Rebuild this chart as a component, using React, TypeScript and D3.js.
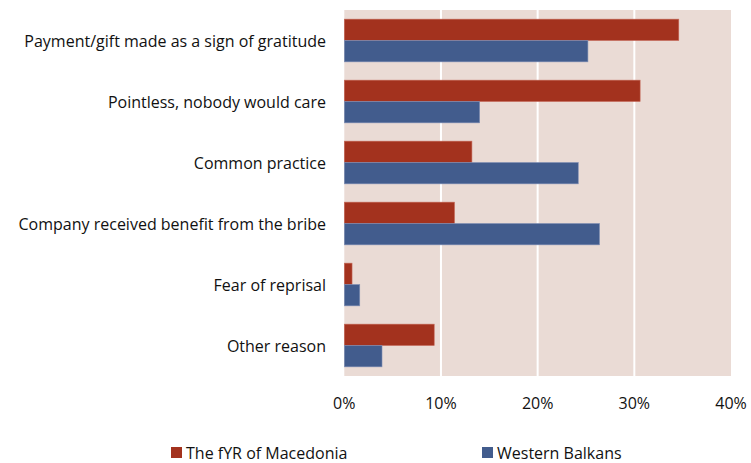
import React from "react";
import * as d3 from "d3";

const categories = [
  "Payment/gift made as a sign of gratitude",
  "Pointless, nobody would care",
  "Common practice",
  "Company received benefit from the bribe",
  "Fear of reprisal",
  "Other reason",
];
const seriesNames = ["The fYR of Macedonia", "Western Balkans"];
const macedonia = [34.6, 30.6, 13.2, 11.4, 0.8, 9.3];
const westernBalkans = [25.2, 14.0, 24.2, 26.4, 1.6, 3.9];
const xTicks = [0, 10, 20, 30, 40];

const colors = ["#A3321E", "#425C8D"];
const W = 751, H = 463;
const left = 344.3, right = 731, top = 10, bottom = 376;
const font = "'Open Sans', 'Noto Sans', sans-serif";
const fs = 16;

export default function App() {
  const x = d3.scaleLinear().domain([0, 40]).range([left, right]);
  const y = d3.scaleBand<string>().domain(categories).range([top, bottom]).paddingInner(0.3).paddingOuter(0.15);
  const series = [macedonia, westernBalkans];
  const bw = y.bandwidth() / 2;
  return (
    <svg width={W} height={H} style={{ position: "absolute", left: 0, top: 0 }}>
      <rect x={left} y={top} width={right - left} height={bottom - top} fill="#EADBD5" />
      {xTicks.slice(1, -1).map((t) => (
        <line key={t} x1={x(t)} x2={x(t)} y1={top} y2={bottom} stroke="#fff" strokeWidth={2} />
      ))}
      {categories.map((c, i) =>
        series.map((s, j) => (
          <rect
            key={c + j}
            x={x(0)}
            y={(y(c) as number) + j * bw}
            width={x(s[i]) - x(0)}
            height={bw}
            fill={colors[j]}
            stroke={j === 0 ? "#C56A5A" : "#8090B5"}
            strokeWidth={0.6}
          />
        ))
      )}
      {categories.map((c) => (
        <text
          key={c}
          x={326}
          y={(y(c) as number) + y.bandwidth() / 2}
          textAnchor="end"
          dominantBaseline="central"
          fontFamily={font}
          fontSize={fs}
          fill="#111"
        >
          {c}
        </text>
      ))}
      {xTicks.map((t) => (
        <text key={t} x={x(t)} y={403} textAnchor="middle" dominantBaseline="central" fontFamily={font} fontSize={fs} fill="#111">
          {t}%
        </text>
      ))}
      {seriesNames.map((n, j) => {
        const lx = j === 0 ? 171 : 482;
        return (
          <g key={n}>
            <rect x={lx} y={447} width={11} height={11} fill={colors[j]} />
            <text x={lx + 15} y={453} dominantBaseline="central" fontFamily={font} fontSize={fs} fill="#111">
              {n}
            </text>
          </g>
        );
      })}
    </svg>
  );
}
